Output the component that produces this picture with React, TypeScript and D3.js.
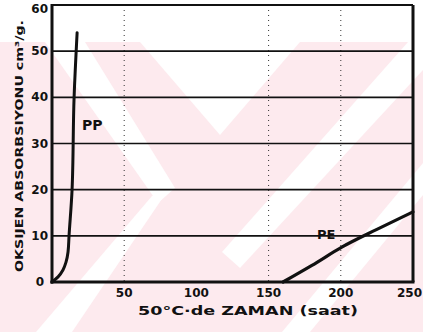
import React from 'react';
import * as d3 from 'd3';

// values
const ppTime = [0, 4.2, 7.6, 9.7, 11.1, 11.8, 13.9, 15.3, 17.4];
const ppOxygen = [0, 1.1, 2.6, 4.3, 6.5, 10, 20, 40, 54];
const peTime = [160, 180, 201, 225, 250];
const peOxygen = [0, 3.6, 7.6, 11.4, 15.2];

const xTicks = [50, 100, 150, 200, 250];
const xTickLabels = ['50', '100', '150', '200', '250'];
const yTicks = [10, 20, 30, 40, 50, 60];
const yTickLabels = ['10', '20', '30', '40', '50', '60'];
const xGridDotted = [50, 150, 200];
const hGrid = [10, 20, 30, 40, 50];

const W = 423;
const H = 332;
const m = { left: 52, right: 10, top: 5, bottom: 50 };
const font = '"DejaVu Sans", sans-serif';

const App = () => {
  const x = d3.scaleLinear().domain([0, 250]).range([m.left, W - m.right]);
  const y = d3.scaleLinear().domain([0, 60]).range([H - m.bottom, m.top]);

  // PP rises almost vertically, so smooth it along y
  const ppLine = d3
    .line<[number, number]>()
    .x((d) => x(d[0]))
    .y((d) => y(d[1]))
    .curve(d3.curveMonotoneY);
  const peLine = d3
    .line<[number, number]>()
    .x((d) => x(d[0]))
    .y((d) => y(d[1]))
    .curve(d3.curveMonotoneX);

  const pp = ppTime.map((t, i) => [t, ppOxygen[i]] as [number, number]);
  const pe = peTime.map((t, i) => [t, peOxygen[i]] as [number, number]);

  return (
    <svg width={W} height={H} style={{ position: 'absolute', left: 0, top: 0, background: '#fff' }}>
      {/* faint watermark of the scan */}
      <g>
        <rect x={0} y={42} width={W} height={H - 42} fill="#fdeaee" />
        <polygon points="45,42 85,42 175,188 158,203" fill="#fff" />
        <polygon points="152,196 172,184 72,332 36,332" fill="#fff" />
        <polygon points="140,42 300,42 220,135" fill="#fff" />
        <polygon points="408,42 423,42 423,70 240,268 222,252" fill="#fff" />
        <polygon points="423,163 423,195 310,332 282,332" fill="#fff" />
      </g>

      {/* grid */}
      {xGridDotted.map((t) => (
        <line key={'v' + t} x1={x(t)} x2={x(t)} y1={y(60)} y2={y(0)} stroke="#333" strokeWidth={1} strokeDasharray="1,4" />
      ))}
      {hGrid.map((t) => (
        <line key={'h' + t} x1={x(0)} x2={x(250)} y1={y(t)} y2={y(t)} stroke="#111" strokeWidth={1.6} />
      ))}

      {/* frame */}
      <line x1={x(0)} x2={x(250)} y1={y(60)} y2={y(60)} stroke="#111" strokeWidth={2} />
      <line x1={x(250)} x2={x(250)} y1={y(60)} y2={y(0)} stroke="#111" strokeWidth={3} />
      <line x1={x(0)} x2={x(0)} y1={y(60) - 1} y2={y(0) + 1.5} stroke="#111" strokeWidth={3} />
      <line x1={x(0) - 1.5} x2={x(250) + 1.5} y1={y(0)} y2={y(0)} stroke="#111" strokeWidth={3} />

      {/* curves */}
      <path d={ppLine(pp) ?? ''} fill="none" stroke="#111" strokeWidth={3} strokeLinecap="round" />
      <path d={peLine(pe) ?? ''} fill="none" stroke="#111" strokeWidth={3.2} strokeLinecap="round" />

      <text x={82} y={130} fontFamily={font} fontWeight="bold" fontSize={14} fill="#111">PP</text>
      <text x={317} y={239} fontFamily={font} fontWeight="bold" fontSize={13} fill="#111">PE</text>

      {/* tick labels */}
      <g fontFamily={font} fontWeight="bold" fontSize={12} fill="#111">
        <text x={40} y={y(0) + 4} textAnchor="middle">0</text>
        {xTicks.map((t, i) => (
          <text
            key={'xl' + t}
            x={t === 250 ? W - 1 : x(t)}
            y={297}
            textAnchor={t === 250 ? 'end' : 'middle'}
          >
            {xTickLabels[i]}
          </text>
        ))}
        {yTicks.map((t, i) => (
          <text key={'yl' + t} x={48} y={t === 60 ? 13 : y(t) + 4} textAnchor="end">
            {yTickLabels[i]}
          </text>
        ))}
      </g>

      {/* axis titles */}
      <text
        transform="translate(23,146) rotate(-90)"
        textAnchor="middle"
        fontFamily={font}
        fontWeight="bold"
        fontSize={11}
        fill="#111"
        textLength={252}
        lengthAdjust="spacingAndGlyphs"
      >
        OKSIJEN ABSORBSIYONU cm³/g.
      </text>
      <text
        x={248}
        y={315}
        textAnchor="middle"
        fontFamily={font}
        fontWeight="bold"
        fontSize={13}
        fill="#111"
        textLength={220}
        lengthAdjust="spacingAndGlyphs"
      >
        50°C·de  ZAMAN (saat)
      </text>
    </svg>
  );
};

export default App;
